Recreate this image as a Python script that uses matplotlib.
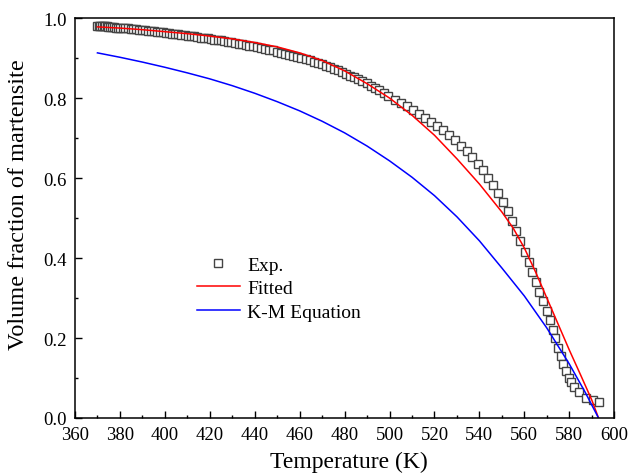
import matplotlib
matplotlib.use("Agg")
import matplotlib.pyplot as plt
from matplotlib.ticker import MultipleLocator, FormatStrFormatter

plt.rcParams['font.family'] = ['Liberation Serif', 'DejaVu Serif']

# experimental points
exp_T = [370.0, 370.6, 371.3, 372.0, 372.7, 373.4, 374.1, 374.9, 375.7, 376.5, 377.3, 378.2, 379.1, 380.0,
         381.2, 382.4, 383.6, 384.8, 386.0, 387.3, 388.6, 389.9, 391.2, 392.5, 393.8, 395.1, 396.4, 397.7,
         399.0, 400.4, 401.8, 403.2, 404.6, 406.0, 407.4, 408.8, 410.2, 411.6, 413.0, 414.5, 416.0, 417.5,
         419.0, 420.5, 422.0, 423.5, 425.0, 426.5, 428.0, 429.6, 431.2, 432.8, 434.4, 436.0, 437.6, 439.2,
         441.0, 442.8, 444.6, 446.4, 448.2, 450.0, 451.8, 453.6, 455.4, 457.2, 459.0, 460.8, 462.6, 464.4,
         466.2, 468.0, 469.8, 471.6, 473.4, 475.2, 477.0, 478.8, 480.6, 482.4, 484.2, 486.0, 487.9, 489.8,
         491.7, 493.6, 495.5, 497.5, 499.5,
         502.3, 505.0, 507.7, 510.4, 513.1, 515.8, 518.5, 521.2, 523.9, 526.6, 529.2, 531.8, 534.3, 536.8,
         539.2, 541.6, 543.9, 546.2, 548.4, 550.5, 552.5, 554.4, 556.2, 558.0,
         560.4, 562.1, 563.6, 565.2, 566.7, 568.2, 570.0, 571.5, 572.7, 573.8, 575.0, 576.4, 577.4, 578.6,
         579.7, 580.7, 582.2, 584.1, 587.5, 590.5, 593.3]
exp_f = [.981, .981, .980, .980, .980, .979, .979, .978, .978, .977, .977, .976, .976, .975,
         .975, .975, .974, .973, .973, .972, .971, .970, .969, .968, .967, .967, .966, .965,
         .964, .963, .962, .961, .960, .959, .958, .957, .956, .955, .954, .952, .951, .950,
         .949, .948, .946, .945, .944, .942, .941, .939, .938, .936, .935, .933, .931, .930,
         .928, .926, .923, .921, .919, .916, .913, .911, .908, .905, .903, .900, .897, .894,
         .891, .888, .884, .881, .877, .873, .869, .865, .861, .856, .852, .847, .842, .837,
         .831, .826, .820, .813, .806,
         .796, .787, .779, .770, .761, .751, .741, .731, .720, .707, .694, .680, .667, .652,
         .636, .619, .601, .582, .562, .540, .517, .493, .468, .443,
         .416, .390, .366, .340, .316, .293, .268, .245, .220, .200, .176, .156, .136, .118,
         .100, .090, .077, .064, .050, .046, .040]

# fitted curve
fit_T = [370, 380, 390, 400, 410, 420, 430, 440, 450, 460, 470, 480, 490, 500,
         510, 520, 530, 540, 550, 555, 560, 565, 570, 575, 580, 585, 590, 593]
fit_f = [0.978, 0.975, 0.971, 0.966, 0.961, 0.955, 0.948, 0.939, 0.928, 0.913, 0.894, 0.868, 0.836, 0.800,
         0.757, 0.707, 0.648, 0.585, 0.515, 0.475, 0.425, 0.365, 0.300, 0.235, 0.170, 0.108, 0.045, 0.0]

# K-M equation
km_T = [370, 380, 390, 400, 410, 420, 430, 440, 450, 460, 470, 480, 490, 500,
        510, 520, 530, 540, 550, 560, 570, 580, 587, 593]
km_f = [0.913, 0.902, 0.890, 0.877, 0.863, 0.848, 0.831, 0.812, 0.791, 0.768, 0.742, 0.713, 0.680, 0.643,
        0.602, 0.556, 0.503, 0.443, 0.375, 0.305, 0.225, 0.135, 0.065, 0.0]

fig = plt.figure(figsize=(6.3, 4.77), dpi=100)
ax = fig.add_axes([0.119, 0.1216, 0.856, 0.8384])

ax.plot(exp_T, exp_f, linestyle='none', marker='s', markersize=5.2,
        markerfacecolor='white', markeredgecolor='#444444', markeredgewidth=1.0, label='Exp.')
ax.plot(fit_T, fit_f, color='#ff0000', linewidth=1.1, label='Fitted')
ax.plot(km_T, km_f, color='#0000ff', linewidth=1.1, label='K-M Equation')

ax.set_xlim(360, 600)
ax.set_ylim(0, 1.0)
ax.xaxis.set_major_locator(MultipleLocator(20))
ax.xaxis.set_minor_locator(MultipleLocator(10))
ax.yaxis.set_major_locator(MultipleLocator(0.2))
ax.yaxis.set_minor_locator(MultipleLocator(0.1))
ax.yaxis.set_major_formatter(FormatStrFormatter('%.1f'))
ax.tick_params(which='both', direction='in', top=False, right=False, labelsize=13.5)
ax.tick_params(axis='x', pad=5.5)
ax.tick_params(axis='y', pad=6)
ax.tick_params(which='major', length=5, width=1.0)
ax.tick_params(which='minor', length=2.5, width=1.0)
for s in ax.spines.values():
    s.set_linewidth(1.1)

ax.set_xlabel('Temperature (K)', fontsize=17)
ax.set_ylabel('Volume fraction of martensite', fontsize=17.5)
ax.xaxis.set_label_coords(0.508, -0.083)
ax.yaxis.set_label_coords(-0.085, 0.535)

ax.legend(loc='upper left', bbox_to_anchor=(0.226, 0.405), frameon=False, fontsize=14,
          handlelength=2.2, handletextpad=0.4, labelspacing=0.3, borderpad=0, borderaxespad=0)

fig.savefig('out.png', dpi=100)
